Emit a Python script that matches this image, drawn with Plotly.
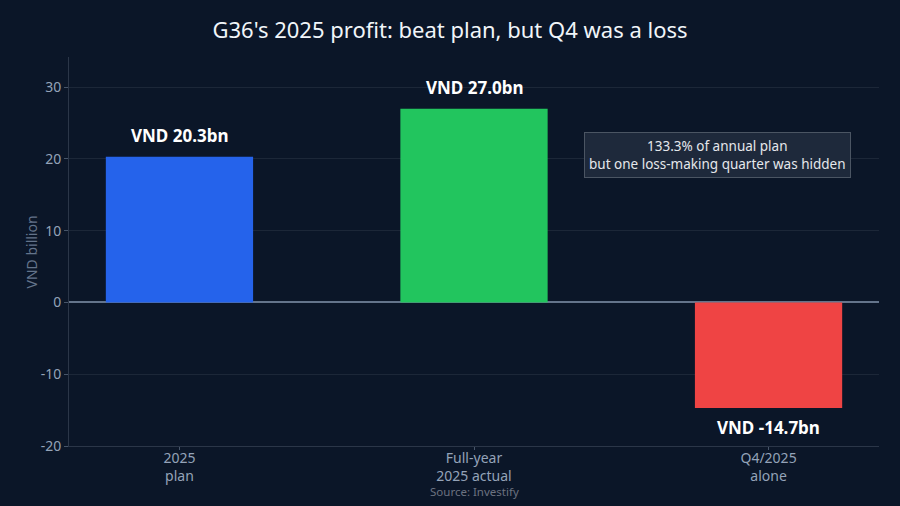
import plotly.graph_objects as go

categories = ["2025<br>plan", "Full-year<br>2025 actual", "Q4/2025<br>alone"]
profit = [20.3, 27.0, -14.7]
bar_colors = ["#2563eb", "#22c55e", "#ef4444"]
labels = [f"VND {v:.1f}bn" for v in profit]
y_ticks = [-20, -10, 0, 10, 20, 30]
y_ticktext = ["-20", "-10", "0", "10", "20", "30"]

bg = "#0b1628"
grid = "#1c2738"

fig = go.Figure()

fig.add_trace(
    go.Bar(x=categories, y=profit, marker=dict(color=bar_colors, line=dict(width=0)),
           width=0.5, hoverinfo="skip")
)

# value labels, pushed a little away from the bar ends
for cat, val, lab in zip(categories, profit, labels):
    fig.add_annotation(
        x=cat, y=val, text=f"<b>{lab}</b>", showarrow=False,
        yanchor="bottom" if val >= 0 else "top", yshift=8 if val >= 0 else -6,
        font=dict(color="#ffffff", size=17, family="Noto Sans"),
    )

fig.add_annotation(
    x=0.8, y=0.748, xref="paper", yref="paper", xanchor="center", yanchor="middle",
    text="133.3% of annual plan<br>but one loss-making quarter was hidden",
    showarrow=False, font=dict(size=13.5, color="#e5e7eb"),
    bgcolor="#1e293b", bordercolor="#4b5563", borderwidth=1, borderpad=4,
)

fig.add_annotation(
    x=0.5, y=-0.118, xref="paper", yref="paper", text="Source: Investify",
    xanchor="center", yanchor="middle", showarrow=False,
    font=dict(size=11.5, color="#6b7280"),
)

# y axis title
fig.add_annotation(
    x=-0.0457, y=0.5, xref="paper", yref="paper", text="VND billion", textangle=-90,
    xanchor="center", yanchor="middle", showarrow=False,
    font=dict(size=14, color="#64748b"),
)

fig.update_layout(
    width=900, height=506,
    title=dict(text="G36's 2025 profit: beat plan, but Q4 was a loss", x=0.5, y=0.94,
               xanchor="center", yanchor="middle", font=dict(size=22, color="#f1f5f9")),
    paper_bgcolor=bg, plot_bgcolor=bg,
    font=dict(family="Noto Sans", color="#94a3b8", size=14),
    margin=dict(l=69, r=21, t=57, b=60),
    showlegend=False,
)

fig.update_xaxes(range=[-0.375, 2.375], showgrid=False, showline=True, linecolor="#2b3648",
                 ticks="outside", tickcolor="#475569", ticklen=3, ticklabelstandoff=-4,
                 tickfont=dict(size=14, color="#94a3b8"))
fig.update_yaxes(range=[-20, 34.2], tickvals=y_ticks, ticktext=y_ticktext,
                 gridcolor=grid, zeroline=True,
                 zerolinecolor="#64748b", zerolinewidth=1.5, showline=True, linecolor="#2b3648",
                 ticks="outside", tickcolor="#475569", ticklen=4,
                 tickfont=dict(size=14, color="#94a3b8"))

fig.write_html("out.html", config={"displayModeBar": False},
               post_script="document.body.style.margin='0';")
